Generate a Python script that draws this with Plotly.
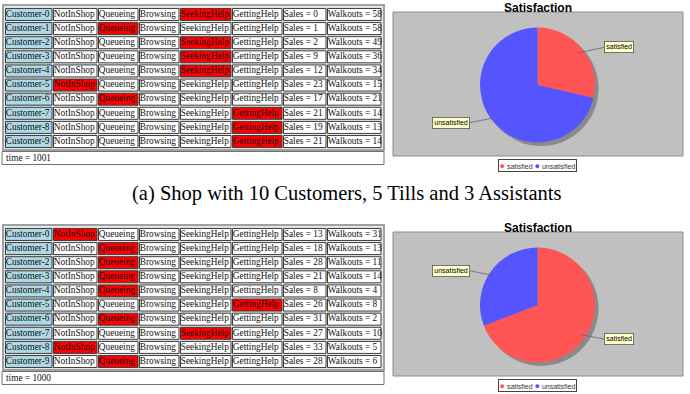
import math
import plotly.graph_objects as go

W, H = 690, 394

# ---------------- data ----------------
customers = ["Customer-0", "Customer-1", "Customer-2", "Customer-3", "Customer-4",
             "Customer-5", "Customer-6", "Customer-7", "Customer-8", "Customer-9"]
states = ["NotInShop", "Queueing", "Browsing", "SeekingHelp", "GettingHelp"]

top_active = ["SeekingHelp", "Queueing", "SeekingHelp", "SeekingHelp", "SeekingHelp",
              "NotInShop", "Queueing", "GettingHelp", "GettingHelp", "GettingHelp"]
top_sales = [0, 1, 2, 9, 12, 23, 17, 21, 19, 21]
top_walkouts = [58, 58, 49, 36, 34, 15, 21, 14, 13, 14]
top_time = 1001

bottom_active = ["NotInShop", "Queueing", "Queueing", "Queueing", "Queueing",
                 "GettingHelp", "Queueing", "SeekingHelp", "NotInShop", "Queueing"]
bottom_sales = [13, 18, 28, 21, 8, 26, 31, 27, 33, 28]
bottom_walkouts = [31, 13, 11, 14, 4, 8, 2, 10, 5, 6]
bottom_time = 1000

pie_labels = ["satisfied", "unsatisfied"]
pie_colors = ["#ff5555", "#5555ff"]
caption_a = "(a) Shop with 10 Customers, 5 Tills and 3 Assistants"

# ---------------- layout helpers ----------------
def px(x):
    return x / W


def py(y):
    return 1 - y / H


# column left edges (px, relative to table box left) and the right end
COL_EDGES = [2, 50, 95, 136, 177, 229, 280, 324, 379]
BOX_X0, BOX_X1 = 3, 384
RED, BLUE, WHITE = "#ff0000", "#add8e6", "#ffffff"
SERIF = "Liberation Serif"
SANS = "Liberation Sans"

fig = go.Figure()
shapes = []
annotations = []
layout_axes = {}


def add_table(idx, off, active, sales, walkouts, time):
    xa = "x" if idx == 1 else f"x{idx}"
    ya = "y" if idx == 1 else f"y{idx}"
    cols = [customers] + [[s] * len(customers) for s in states]
    cols.append([f"Sales = {v}" for v in sales])
    cols.append([f"Walkouts = {v}" for v in walkouts])
    fills = [[BLUE] * len(customers)]
    for s in states:
        fills.append([RED if a == s else WHITE for a in active])
    fills.append([WHITE] * len(customers))
    fills.append([WHITE] * len(customers))
    rows = list(range(len(customers)))
    for j, (vals, fc) in enumerate(zip(cols, fills)):
        x0 = COL_EDGES[j] + 0.5
        w = COL_EDGES[j + 1] - COL_EDGES[j] - 1.5
        fig.add_trace(go.Bar(
            orientation="h", y=rows, x=[w] * len(rows), base=[x0] * len(rows),
            marker=dict(color=fc, line=dict(color="#3c3c3c", width=1)),
            hoverinfo="skip", showlegend=False, xaxis=xa, yaxis=ya))
        fig.add_trace(go.Scatter(
            x=[x0 + 0.3] * len(rows), y=rows, mode="text", text=vals,
            textposition="middle right", cliponaxis=False,
            textfont=dict(family=SERIF, size=9.3, color="#111111"),
            hoverinfo="skip", showlegend=False, xaxis=xa, yaxis=ya))
    ax_common = dict(showgrid=False, zeroline=False, showticklabels=False, ticks="",
                     showline=False, fixedrange=True)
    layout_axes["xaxis" if idx == 1 else f"xaxis{idx}"] = dict(
        domain=[px(BOX_X0), px(BOX_X1)], range=[0, BOX_X1 - BOX_X0],
        anchor=ya, **ax_common)
    layout_axes["yaxis" if idx == 1 else f"yaxis{idx}"] = dict(
        domain=[py(148.6 + off), py(7.4 + off)], range=[len(rows) - 0.5, -0.5],
        anchor=xa, **ax_common)
    shapes.append(dict(type="rect", xref="paper", yref="paper",
                       x0=px(BOX_X0), x1=px(BOX_X1), y0=py(150 + off), y1=py(5 + off),
                       fillcolor="#e6e6e6", line=dict(color="#a0a0a0", width=2), layer="below"))
    # time row
    shapes.append(dict(type="rect", xref="paper", yref="paper",
                       x0=px(2), x1=px(384), y0=py(164.5 + off), y1=py(151.5 + off),
                       fillcolor="white", line=dict(color="#707070", width=1), layer="below"))
    annotations.append(dict(x=px(3.5), y=py(158 + off), xref="paper", yref="paper",
                            xanchor="left", yanchor="middle", showarrow=False,
                            text=f"time = {time}",
                            font=dict(family=SERIF, size=9.3, color="#111111")))


def add_pie(off, values):
    cx, cy, R = 537.5, 85 + off, 57.5
    shapes.append(dict(type="rect", xref="paper", yref="paper",
                       x0=px(393), x1=px(683), y0=py(cy + 71), y1=py(cy - 73),
                       fillcolor="#c0c0c0", line=dict(color="#8c8c8c", width=1), layer="below"))
    sh = 3.5
    fig.add_trace(go.Pie(values=[1], labels=["shadow"], marker=dict(colors=["#8a8a8a"]),
                         domain=dict(x=[px(cx - R + sh), px(cx + R + sh)],
                                     y=[py(cy + R + sh), py(cy - R + sh)]),
                         textinfo="none", hoverinfo="skip", showlegend=False, sort=False))
    fig.add_trace(go.Pie(values=values, labels=pie_labels,
                         marker=dict(colors=pie_colors, line=dict(width=0)),
                         domain=dict(x=[px(cx - R), px(cx + R)], y=[py(cy + R), py(cy - R)]),
                         textinfo="none", direction="clockwise", rotation=0, sort=False,
                         showlegend=False))
    total = sum(values)
    start = 0.0
    for lab, v in zip(pie_labels, values):
        ang = 2 * math.pi * (start + v / 2) / total
        start += v
        s, c = math.sin(ang), math.cos(ang)
        axp, ayp = cx + 0.9 * R * s, cy - 0.9 * R * c
        ly = cy - 1.05 * R * c
        right = s >= 0
        lx = 604 if right else 470
        annotations.append(dict(
            x=px(axp), y=py(ayp), xref="paper", yref="paper",
            ax=lx - axp, ay=ly - ayp, showarrow=True, arrowhead=0, arrowwidth=0.8,
            arrowcolor="#666666", standoff=0, startstandoff=0,
            xanchor="left" if right else "right", yanchor="middle",
            text=lab, font=dict(family=SANS, size=7, color="black"),
            bgcolor="#ffffc8", bordercolor="#555555", borderwidth=0.8, borderpad=1.5))
    annotations.append(dict(x=px(cx), y=py(cy - 85), xref="paper", yref="paper",
                            xanchor="center", yanchor="top",
                            text="<b>Satisfaction</b>", showarrow=False, borderpad=0,
                            font=dict(family=SANS, size=12, color="black")))
    leg = (f"<span style='color:{pie_colors[0]};font-size:9px'>●</span> {pie_labels[0]} "
           f"<span style='color:{pie_colors[1]};font-size:9px'>●</span> {pie_labels[1]}")
    annotations.append(dict(x=px(cx), y=py(cy + 80), xref="paper", yref="paper",
                            xanchor="center", yanchor="middle",
                            text=leg, showarrow=False, bgcolor="white",
                            bordercolor="#444444", borderwidth=1, borderpad=0.5,
                            font=dict(family=SANS, size=7, color="#333333")))


add_table(1, 0, top_active, top_sales, top_walkouts, top_time)
add_pie(0, [sum(top_sales), sum(top_walkouts)])
add_table(2, 220, bottom_active, bottom_sales, bottom_walkouts, bottom_time)
add_pie(220, [sum(bottom_sales), sum(bottom_walkouts)])

annotations.append(dict(x=px(346), y=py(193), xref="paper", yref="paper",
                        xanchor="center", yanchor="middle",
                        text=caption_a, showarrow=False,
                        font=dict(family=SERIF, size=20.5, color="black")))

fig.update_layout(width=W, height=H, margin=dict(l=0, r=0, t=0, b=0),
                  paper_bgcolor="white", plot_bgcolor="rgba(0,0,0,0)",
                  barmode="overlay", bargap=0.15,
                  shapes=shapes, annotations=annotations, showlegend=False,
                  **layout_axes)
fig.write_html("out.html")
